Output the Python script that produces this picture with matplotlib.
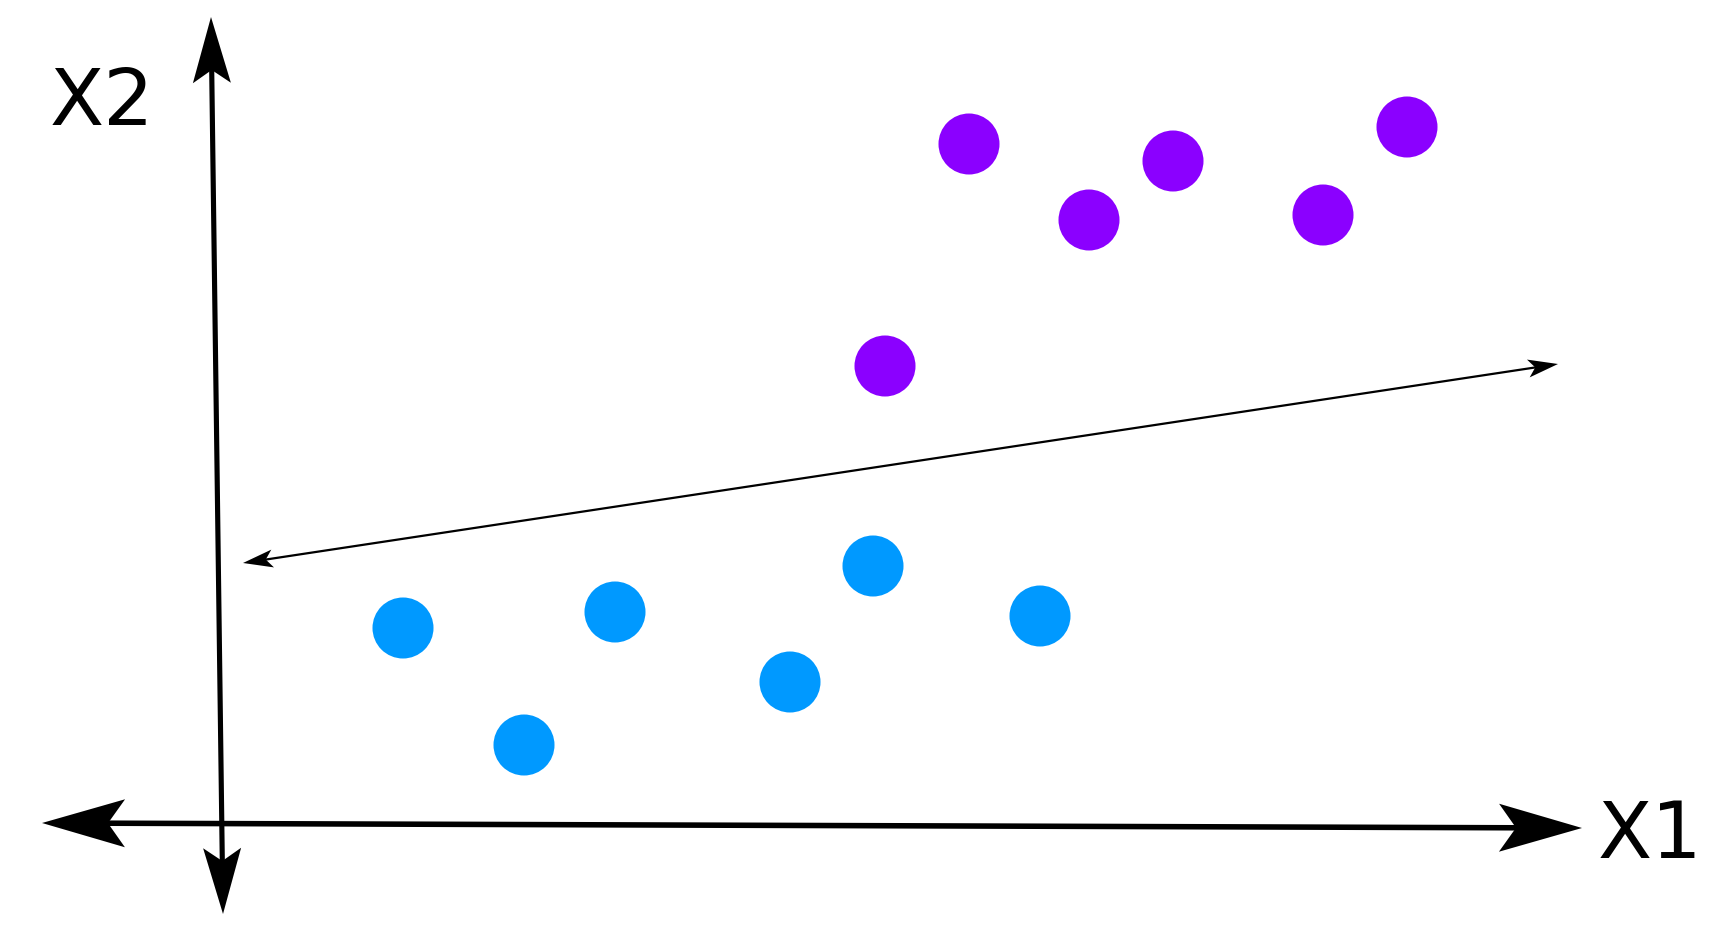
import numpy as np
import matplotlib.pyplot as plt
from matplotlib.patches import Polygon

# two classes of points (pixel-like units, origin bottom left)
purple_x = [969, 1089, 1173, 1323, 1407, 885]
purple_y = [786, 710, 769, 715, 803, 564]
blue_x = [403, 524, 615, 790, 873, 1040]
blue_y = [302, 185, 318, 248, 364, 314]

# axis lines (start, end) -> arrowheads on both ends
x_axis = [(42, 107), (1582, 102)]
y_axis = [(211, 913), (223, 16)]
# projection direction
proj = [(243, 367), (1558, 566)]

def head(ax, tip, frm, L, W, N):
    tip = np.array(tip, float)
    d = tip - np.array(frm, float)
    d = d / np.hypot(*d)
    n = np.array([-d[1], d[0]])
    back = tip - d*L
    notch = tip - d*(L-N)
    pts = [tip, back + n*W, notch, back - n*W]
    ax.add_patch(Polygon(pts, closed=True, facecolor='black', lw=0, zorder=3))
    return notch + d*2  # line runs a little into the head

def double_arrow(ax, seg, lw, L, W, N):
    a = head(ax, seg[0], seg[1], L, W, N)
    b = head(ax, seg[1], seg[0], L, W, N)
    ax.plot([a[0], b[0]], [a[1], b[1]], color='black', lw=lw,
            solid_capstyle='butt', zorder=2)

fig = plt.figure(figsize=(17.22, 9.30), dpi=100)
ax = fig.add_axes([0, 0, 1, 1])
ax.set_xlim(0, 1722)
ax.set_ylim(0, 930)
ax.axis('off')

double_arrow(ax, x_axis, 4.0, 83, 24, 17)
double_arrow(ax, y_axis, 3.7, 66, 19, 13)
double_arrow(ax, proj, 1.6, 30, 9, 7)

ax.scatter(purple_x, purple_y, s=1930, color='#8B00FF', edgecolors='none', zorder=4)
ax.scatter(blue_x, blue_y, s=1930, color='#0099FF', edgecolors='none', zorder=4)

ax.text(50, 805, 'X2', fontsize=57, ha='left', va='baseline', family='DejaVu Sans')
ax.text(1598, 72, 'X1', fontsize=57, ha='left', va='baseline', family='DejaVu Sans')

fig.savefig('out.png', dpi=100, facecolor='white')
